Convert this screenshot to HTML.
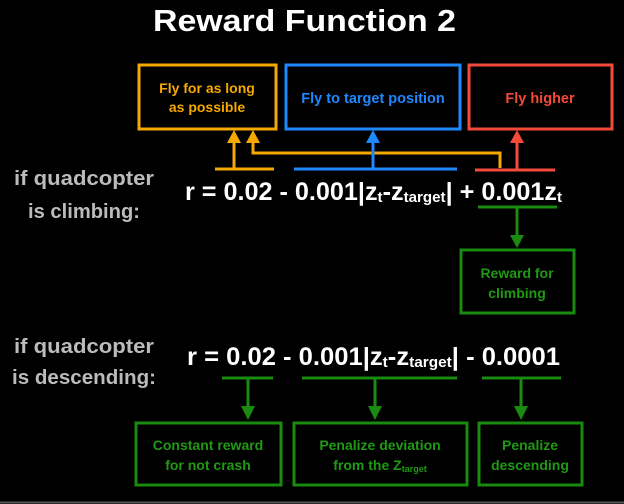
<!DOCTYPE html>
<html><head><style>html,body{margin:0;padding:0;background:#000;}svg{display:block}</style></head>
<body>
<svg width="624" height="504" viewBox="0 0 624 504" xmlns="http://www.w3.org/2000/svg" font-family="Liberation Sans, sans-serif" font-weight="bold">
<rect width="624" height="504" fill="#000"/>
<line x1="0" y1="502.5" x2="624" y2="502.5" stroke="#555" stroke-width="2"/>
<text x="153" y="31" font-size="31" fill="#fff" textLength="303" lengthAdjust="spacingAndGlyphs">Reward Function 2</text>

<!-- top boxes -->
<rect x="139" y="65" width="137" height="64" fill="none" stroke="#f5a800" stroke-width="3"/>
<text x="207" y="93" font-size="14" fill="#f5a800" text-anchor="middle">Fly for as long</text>
<text x="207" y="112" font-size="14" fill="#f5a800" text-anchor="middle">as possible</text>
<rect x="286" y="65" width="174" height="64" fill="none" stroke="#1e88ff" stroke-width="3"/>
<text x="373" y="103" font-size="14.5" fill="#1e88ff" text-anchor="middle">Fly to target position</text>
<rect x="469" y="65" width="143" height="64" fill="none" stroke="#f44a3a" stroke-width="3"/>
<text x="540" y="103" font-size="14.5" fill="#f44a3a" text-anchor="middle">Fly higher</text>

<!-- yellow connectors -->
<g stroke="#f5a800" stroke-width="3" fill="none">
<line x1="215" y1="169" x2="274" y2="169"/>
<line x1="234" y1="169" x2="234" y2="142"/>
<polyline points="253,142 253,153 500,153 500,168"/>
</g>
<polygon points="234,130 227,143 241,143" fill="#f5a800"/>
<polygon points="253,130 246,143 260,143" fill="#f5a800"/>
<!-- blue -->
<line x1="294" y1="169" x2="457" y2="169" stroke="#1e88ff" stroke-width="3"/>
<line x1="373" y1="169" x2="373" y2="142" stroke="#1e88ff" stroke-width="3"/>
<polygon points="373,130 366,143 380,143" fill="#1e88ff"/>
<!-- red -->
<line x1="475" y1="170" x2="555" y2="170" stroke="#f44a3a" stroke-width="3"/>
<line x1="517" y1="170" x2="517" y2="142" stroke="#f44a3a" stroke-width="3"/>
<polygon points="517,130 510,143 524,143" fill="#f44a3a"/>

<!-- left labels -->
<text x="14" y="185" font-size="20" fill="#bbb" textLength="140" lengthAdjust="spacingAndGlyphs">if quadcopter</text>
<text x="28" y="218" font-size="20" fill="#bbb" textLength="112" lengthAdjust="spacingAndGlyphs">is climbing:</text>
<text x="14" y="353" font-size="20" fill="#bbb" textLength="140" lengthAdjust="spacingAndGlyphs">if quadcopter</text>
<text x="12" y="384" font-size="20" fill="#bbb" textLength="144" lengthAdjust="spacingAndGlyphs">is descending:</text>

<!-- formula 1 -->
<text x="185" y="200" font-size="25" fill="#fff" textLength="377" lengthAdjust="spacingAndGlyphs">r = 0.02 - 0.001|z<tspan font-size="15" dy="2">t</tspan><tspan dy="-2">-z</tspan><tspan font-size="15" dy="2">target</tspan><tspan dy="-2">| + 0.001z</tspan><tspan font-size="15" dy="2">t</tspan></text>
<!-- green climbing -->
<g stroke="#1a8a10" stroke-width="3" fill="none">
<line x1="478" y1="207" x2="557" y2="207"/>
<line x1="517" y1="207" x2="517" y2="236"/>
<rect x="461" y="250" width="113" height="63"/>
</g>
<polygon points="517,248 510,235 524,235" fill="#1a8a10"/>
<text x="517" y="278" font-size="14" fill="#1f9a12" text-anchor="middle">Reward for</text>
<text x="517" y="298" font-size="14" fill="#1f9a12" text-anchor="middle">climbing</text>

<!-- formula 2 -->
<text x="187" y="365" font-size="25" fill="#fff" textLength="373" lengthAdjust="spacingAndGlyphs">r = 0.02 - 0.001|z<tspan font-size="15" dy="2">t</tspan><tspan dy="-2">-z</tspan><tspan font-size="15" dy="2">target</tspan><tspan dy="-2">| - 0.0001</tspan></text>
<g stroke="#1a8a10" stroke-width="3" fill="none">
<line x1="222" y1="378" x2="273" y2="378"/>
<line x1="302" y1="378" x2="457" y2="378"/>
<line x1="482" y1="378" x2="561" y2="378"/>
<line x1="248" y1="378" x2="248" y2="408"/>
<line x1="375" y1="378" x2="375" y2="408"/>
<line x1="521" y1="378" x2="521" y2="408"/>
<rect x="136" y="423" width="145" height="62"/>
<rect x="294" y="423" width="173" height="62"/>
<rect x="479" y="423" width="103" height="62"/>
</g>
<polygon points="248,420 241,406 255,406" fill="#1a8a10"/>
<polygon points="375,420 368,406 382,406" fill="#1a8a10"/>
<polygon points="521,420 514,406 528,406" fill="#1a8a10"/>
<g font-size="14" fill="#1f9a12" text-anchor="middle">
<text x="208" y="450">Constant reward</text>
<text x="208" y="470">for not crash</text>
<text x="380" y="450">Penalize deviation</text>
<text x="380" y="470">from the Z<tspan font-size="9" dy="2">target</tspan></text>
<text x="530" y="450">Penalize</text>
<text x="530" y="470">descending</text>
</g>
</svg>
</body></html>
